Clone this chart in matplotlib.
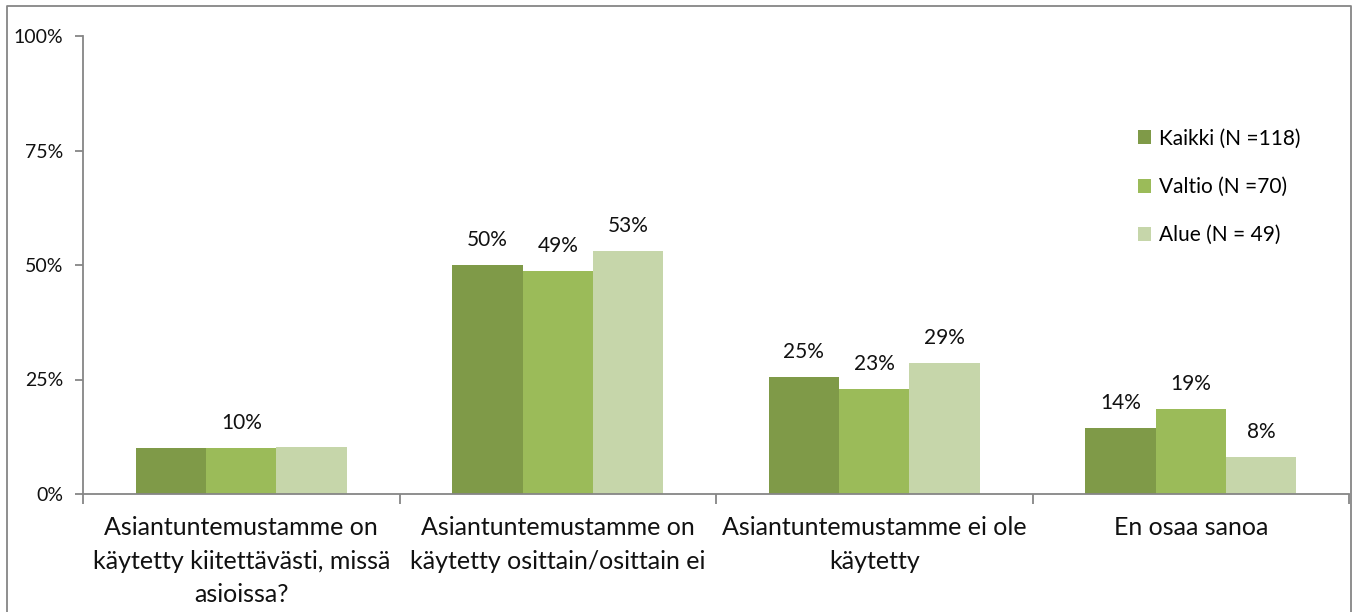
import matplotlib
matplotlib.use("Agg")
import matplotlib.pyplot as plt
import numpy as np

# data (percent)
categories = [
    "Asiantuntemustamme on\nkäytetty kiitettävästi, missä\nasioissa?",
    "Asiantuntemustamme on\nkäytetty osittain/osittain ei",
    "Asiantuntemustamme ei ole\nkäytetty",
    "En osaa sanoa",
]
series_names = ["Kaikki (N =118)", "Valtio (N =70)", "Alue (N = 49)"]
kaikki = [10.1, 49.9, 25.5, 14.4]
valtio = [10.0, 48.6, 22.9, 18.5]
alue = [10.2, 53.1, 28.6, 8.1]
kaikki_lbl = ["", "50%", "25%", "14%"]
valtio_lbl = ["10%", "49%", "23%", "19%"]
alue_lbl = ["", "53%", "29%", "8%"]
yticks = [0, 25, 50, 75, 100]

colors = ["#7F9A48", "#9BBB59", "#C6D6AA"]
grey = "#868686"

plt.rcParams['font.family'] = ['Lato', 'DejaVu Sans']

fig = plt.figure(figsize=(13.57, 6.12), dpi=100)
ax = fig.add_axes([83/1357, 1-494/612, (1349-83)/1357, (494-36)/612])

# figure border
fig.add_artist(plt.Line2D([7/1357, 7/1357, 1351/1357, 1351/1357],
                          [-0.1, 1-6/612, 1-6/612, -0.1],
                          transform=fig.transFigure, color=grey, lw=1.3))

x = np.arange(len(categories))
w = 1/4.5  # excel gap width 150%
allvals = [kaikki, valtio, alue]
alllbls = [kaikki_lbl, valtio_lbl, alue_lbl]
for i, (vals, lbls) in enumerate(zip(allvals, alllbls)):
    pos = x + (i-1)*w
    bars = ax.bar(pos, vals, w, color=colors[i], label=series_names[i], zorder=2)
    for b, v, t in zip(bars, vals, lbls):
        if t:
            ax.annotate(t, (b.get_x()+b.get_width()/2, v), xytext=(0, 11),
                        textcoords="offset points", ha="center", va="bottom",
                        fontsize=15, color="#111111")

ax.set_xlim(-0.5, len(categories)-0.5)
ax.set_ylim(0, 100)
ax.set_yticks(yticks)
ax.set_yticklabels([f"{t}%" for t in yticks], fontsize=14, color="#111111")
ax.set_xticks(x)
ax.set_xticklabels(categories, fontsize=18, color="#111111", linespacing=1.55)
ax.tick_params(axis="x", length=0, pad=16)
ax.set_xticks(np.arange(len(categories)+1)-0.5, minor=True)
ax.tick_params(axis="x", which="minor", length=7, color=grey, width=1.3)
ax.tick_params(axis="y", length=6, color=grey, width=1.3, pad=8)

for s in ["top", "right"]:
    ax.spines[s].set_visible(False)
for s in ["left", "bottom"]:
    ax.spines[s].set_color(grey)
    ax.spines[s].set_linewidth(1.3)

ax.legend(loc="upper left", frameon=False, fontsize=15, handlelength=0.65,
          handleheight=0.65, handletextpad=0.35, labelspacing=1.35)
leg = ax.get_legend()
leg.set_bbox_to_anchor((1119/1357, 1-110/612), transform=fig.transFigure)

fig.savefig("out.png", dpi=100)
